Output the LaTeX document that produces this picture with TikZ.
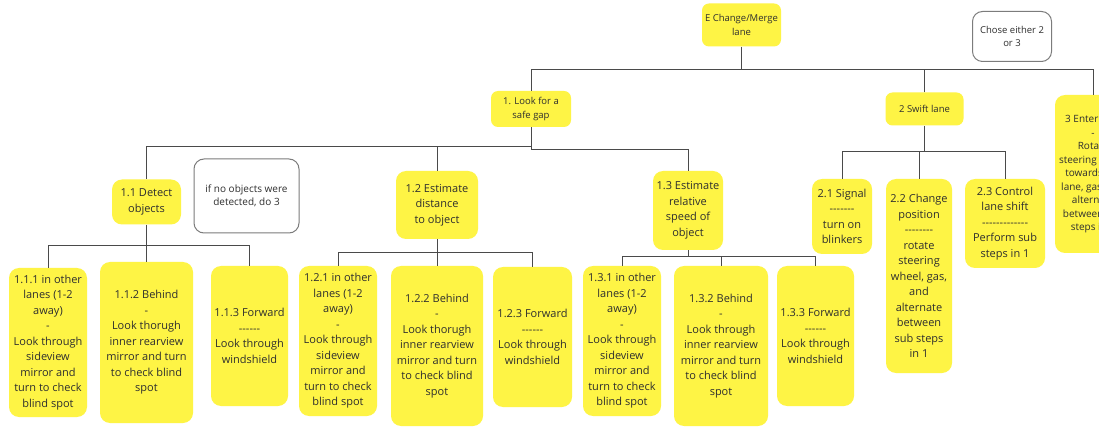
\documentclass[tikz,border=0pt]{standalone}
\usepackage{fontspec}
\setmainfont{Open Sans}
\definecolor{sticky}{HTML}{FEF445}
\definecolor{ink}{HTML}{2E2E2E}
\definecolor{wire}{HTML}{4A4A4A}
\definecolor{frame}{HTML}{7C7C7C}
% a hyphen that never joins its neighbours into a dash ligature
\newcommand\dd{-\kern0pt}

\begin{document}
\begin{tikzpicture}[x=1pt,y=-1pt,
  card/.style={fill=sticky, rounded corners=10pt, align=center, text=ink,
    inner sep=2pt, font=\fontsize{11}{15.5}\selectfont},
  smallcard/.style={card, rounded corners=7pt, font=\fontsize{9.5}{14}\selectfont},
  note/.style={draw=frame, line width=1pt, fill=white, rounded corners=10pt,
    align=center, text=ink, inner sep=2pt, font=\fontsize{10}{13.5}\selectfont},
  link/.style={draw=wire, line width=1pt},
  box/.style 2 args={minimum width=#1pt, minimum height=#2pt}
]
\useasboundingbox (0,0) rectangle (1099,427);
\clip (0,0) rectangle (1099,427);
\fill[white] (0,0) rectangle (1099,427);

% root and side remark
\node[smallcard, box={79}{43}] (top) at (741.5,25) {E Change/Merge\\lane};
\node[note, box={79}{50}, font=\fontsize{9.5}{13.5}\selectfont] (either) at (1012,36.5) {Chose either 2\\or 3};

% level 1
\node[smallcard, box={80}{36}] (n1) at (531,109) {1. Look for a\\safe gap};
\node[smallcard, box={78}{33}] (n2) at (924.5,109) {2 Swift lane};
\node[card, box={76}{158}, font=\fontsize{10}{13.5}\selectfont] (n3) at (1093,174)
  {3 Enter lane\\-\\Rotate\\steering wheel\\towards the\\lane, gas, and\\alternate\\between sub\\steps in 1};

% level 2
\node[card, box={69}{45}] (n11) at (146.5,202) {1.1 Detect\\objects};
\node[note, box={105}{74}] (nonote) at (246.5,196) {if no objects were\\detected, do 3};
\node[card, box={82}{68}] (n12) at (437,205) {1.2 Estimate\\distance\\to object};
\node[card, box={70}{79}] (n13) at (688,210.5) {1.3 Estimate\\relative\\speed of\\object};
\node[card, box={60}{75}] (n21) at (842,216.5) {2.1 Signal\\\dd\dd\dd\dd\dd\dd\dd\\turn on\\blinkers};
\node[card, box={66}{194}] (n22) at (919,276)
  {2.2 Change\\position\\\dd\dd\dd\dd\dd\dd\dd\dd\\rotate\\steering\\wheel, gas,\\and\\alternate\\between\\sub steps\\in 1};
\node[card, box={80}{89}] (n23) at (1005,223.5)
  {2.3 Control\\lane shift\\\dd\dd\dd\dd\dd\dd\dd\dd\dd\dd\dd\dd\dd\\Perform sub\\steps in 1};

% level 3 under 1.1
\node[card, box={78}{149}] (n111) at (48,342.5)
  {1.1.1 in other\\lanes (1-2\\away)\\-\\Look through\\sideview\\mirror and\\turn to check\\blind spot};
\node[card, box={93}{161}] (n112) at (146.5,342.5)
  {1.1.2 Behind\\-\\Look thorugh\\inner rearview\\mirror and turn\\to check blind\\spot};
\node[card, box={77}{140}] (n113) at (249.5,336)
  {1.1.3 Forward\\\dd\dd\dd\dd\dd\dd\\Look through\\windshield};

% level 3 under 1.2
\node[card, box={78}{150}] (n121) at (338,341)
  {1.2.1 in other\\lanes (1-2\\away)\\-\\Look through\\sideview\\mirror and\\turn to check\\blind spot};
\node[card, box={92}{160}] (n122) at (437,346)
  {1.2.2 Behind\\-\\Look thorugh\\inner rearview\\mirror and turn\\to check blind\\spot};
\node[card, box={79}{140}] (n123) at (532.5,337)
  {1.2.3 Forward\\\dd\dd\dd\dd\dd\dd\\Look through\\windshield};

% level 3 under 1.3
\node[card, box={78}{150}] (n131) at (622,341)
  {1.3.1 in other\\lanes (1-2\\away)\\-\\Look through\\sideview\\mirror and\\turn to check\\blind spot};
\node[card, box={94}{160}] (n132) at (721,346)
  {1.3.2 Behind\\-\\Look through\\inner rearview\\mirror and turn\\to check blind\\spot};
\node[card, box={77}{140}] (n133) at (815.5,336)
  {1.3.3 Forward\\\dd\dd\dd\dd\dd\dd\\Look through\\windshield};

% connectors: root level
\draw[link] (top.south) -- (top.south |- 0,70);
\draw[link] (n1.north) |- (n3.north |- 0,70) -- (n3.north);
\draw[link] (n2.north) -- (n2.north |- 0,70);

% connectors under 1
\draw[link] (n1.south) |- (n11.north |- 0,147) -- (n11.north);
\draw[link] (n12.north) -- (n12.north |- 0,147);
\draw[link] (n1.south) |- (n13.north |- 0,150) -- (n13.north);

% connectors under 2
\draw[link] (n2.south) -- (n2.south |- 0,152);
\draw[link] (n21.north) |- (n23.north |- 0,152) -- (n23.north);
\draw[link] (n22.north) -- (n22.north |- 0,152);

% connectors under 1.1
\draw[link] (n11.south) -- (n11.south |- 0,246);
\draw[link] (n111.north) |- (n113.north |- 0,246) -- (n113.north);
\draw[link] (n112.north) -- (n112.north |- 0,246);

% connectors under 1.2
\draw[link] (n12.south) -- (n12.south |- 0,253);
\draw[link] (n121.north) |- (n123.north |- 0,253) -- (n123.north);
\draw[link] (n122.north) -- (n122.north |- 0,253);

% connectors under 1.3
\draw[link] (n13.south) -- (n13.south |- 0,257);
\draw[link] (n131.north) |- (n133.north |- 0,257) -- (n133.north);
\draw[link] (n132.north) -- (n132.north |- 0,257);
\end{tikzpicture}
\end{document}
